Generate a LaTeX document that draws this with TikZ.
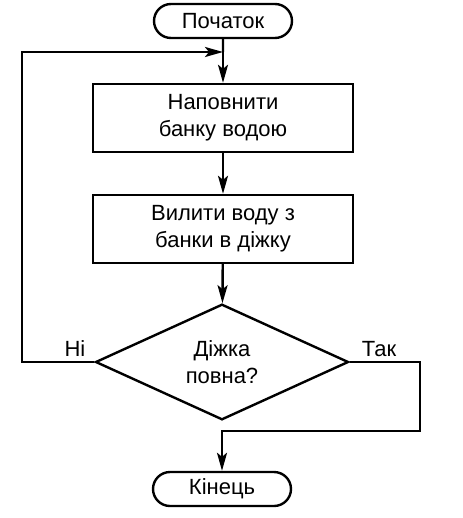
\documentclass[tikz,border=0pt]{standalone}
\usepackage{fontspec}
\setmainfont{Liberation Sans}
\usetikzlibrary{shapes.geometric,shapes.misc,arrows.meta}

\tikzset{
  term/.style={draw, rounded rectangle, minimum width=69pt, minimum height=17pt, inner sep=0pt},
  proc/.style={draw, rectangle, minimum width=130pt, minimum height=34pt, align=center},
  cond/.style={draw, diamond, minimum width=126.5pt, minimum height=55pt, inner sep=0pt, align=center},
  flow/.style={-{Stealth[length=9pt,width=5pt,inset=2pt]}},
}

\begin{document}
\begin{tikzpicture}[x=0.5pt, y=-0.5pt, line width=1.2pt, font=\fontsize{11}{13.5}\selectfont]
	\useasboundingbox (0,0) rectangle (462,518);
	\node (start) [term] at (223,21) {Початок};
	\node (fill) [proc] at (223,118) {Наповнити\\банку водою};
	\node (pour) [proc] at (223,229) {Вилити воду з\\банки в діжку};
	\node (full) [cond] at (222,362) {Діжка\\повна?};
	\node (stop) [term] at (222,489) {Кінець};
	\node (no) at (75,349) {Ні};
	\node (yes) at (379,349) {Так};
	\coordinate (merge) at (223,52);
	\coordinate (back) at (22,52);
	\coordinate (join) at (420,431);

	\draw (start) -- (merge);
	\draw[flow] (merge) -- (fill);
	\draw[flow] (fill) -- (pour);
	\draw[flow] (pour) -- (full);
	\draw[flow] (full.west) -| (back) -- (merge);
	\draw[flow] (full.east) -| (join) -| (stop.north);
\end{tikzpicture}
\end{document}
